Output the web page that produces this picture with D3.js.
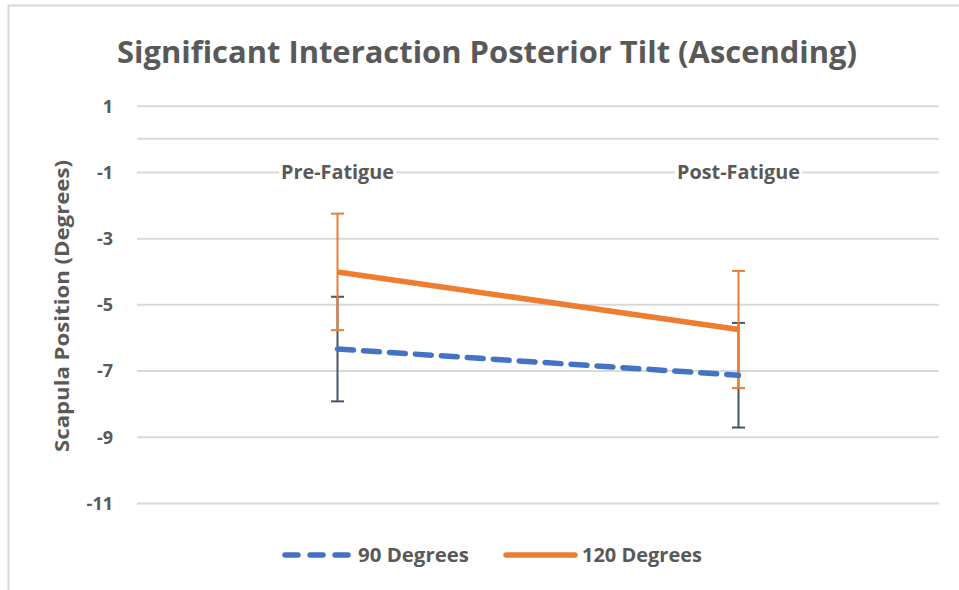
<!DOCTYPE html>
<html>
<head>
<meta charset="utf-8">
<script src="https://cdn.jsdelivr.net/npm/d3@7"></script>
<style>
  html, body { margin: 0; padding: 0; background: #fff; }
  svg { display: block; }
  text { font-family: "Open Sans", "Noto Sans", sans-serif; font-weight: 700; fill: #595959; }
</style>
</head>
<body>
<svg id="chart" width="959" height="590"></svg>
<script>
// Chart data
const categories = ["Pre-Fatigue", "Post-Fatigue"];
const seriesNames = ["90 Degrees", "120 Degrees"];
const values90 = [-6.35, -7.14];
const errors90 = [1.58, 1.58];
const values120 = [-4.02, -5.76];
const errors120 = [1.76, 1.77];
const yTicks = [1, -1, -3, -5, -7, -9, -11];
const chartTitle = "Significant Interaction Posterior Tilt (Ascending)";
const yAxisTitle = "Scapula Position (Degrees)";

const series = [
  { name: seriesNames[0], values: values90, errors: errors90, color: "#4472C4", errColor: "#44546A", dash: "16,10" },
  { name: seriesNames[1], values: values120, errors: errors120, color: "#ED7D31", errColor: "#ED7D31", dash: null }
];

const svg = d3.select("#chart");

// Outer frame (top and left edges)
svg.append("line").attr("x1", 8).attr("x2", 959).attr("y1", 5.5).attr("y2", 5.5)
  .attr("stroke", "#d9d9d9").attr("stroke-width", 2);
svg.append("line").attr("x1", 8.5).attr("x2", 8.5).attr("y1", 5).attr("y2", 590)
  .attr("stroke", "#d9d9d9").attr("stroke-width", 2);

const plot = { left: 137, right: 939, top: 105.7, bottom: 503 };

const x = d3.scaleBand().domain(categories).range([plot.left, plot.right]);
const y = d3.scaleLinear().domain([-11, 1]).range([plot.bottom, plot.top]);

// Title
svg.append("text")
  .attr("x", 487).attr("y", 63)
  .attr("text-anchor", "middle")
  .attr("font-size", 30)
  .attr("textLength", 740).attr("lengthAdjust", "spacingAndGlyphs")
  .text(chartTitle);

// Horizontal gridlines via axis
const yGrid = d3.axisLeft(y).tickValues(yTicks)
  .tickSize(-(plot.right - plot.left)).tickFormat("");
const gridG = svg.append("g").attr("transform", `translate(${plot.left},0)`).call(yGrid);
gridG.select(".domain").remove();
gridG.selectAll(".tick line").attr("stroke", "#d9d9d9").attr("stroke-width", 2);

// Category axis line at zero
svg.append("line")
  .attr("x1", plot.left).attr("x2", plot.right)
  .attr("y1", y(0)).attr("y2", y(0))
  .attr("stroke", "#d9d9d9").attr("stroke-width", 2);

// Y tick labels
const yAxis = d3.axisLeft(y).tickValues(yTicks).tickSize(0).tickPadding(0)
  .tickFormat(d => d3.format("d")(d).replace("−", "-"));
const yAxisG = svg.append("g").attr("transform", `translate(113,0)`).call(yAxis);
yAxisG.select(".domain").remove();
yAxisG.selectAll(".tick text")
  .attr("font-size", 18).attr("fill", "#595959")
  .attr("font-family", "Open Sans, sans-serif").attr("font-weight", 700)
  .attr("dy", "0.35em");

// Y axis title
svg.append("text")
  .attr("transform", `translate(69,306) rotate(-90)`)
  .attr("text-anchor", "middle")
  .attr("font-size", 20)
  .attr("textLength", 292).attr("lengthAdjust", "spacingAndGlyphs")
  .text(yAxisTitle);

// Category labels, placed just under the zero line
const catWidths = [113, 123];
const catG = svg.append("g");
categories.forEach((c, i) => {
  const cx = x(c) + x.bandwidth() / 2;
  const t = catG.append("text")
    .attr("x", cx).attr("y", y(-1))
    .attr("dy", "0.35em")
    .attr("text-anchor", "middle")
    .attr("font-size", 19)
    .attr("textLength", catWidths[i]).attr("lengthAdjust", "spacingAndGlyphs")
    .text(c);
  const bb = t.node().getBBox();
  catG.insert("rect", "text")
    .attr("x", bb.x - 2).attr("y", bb.y).attr("width", bb.width + 4).attr("height", bb.height)
    .attr("fill", "#fff");
});

const cxOf = i => x(categories[i]) + x.bandwidth() / 2;

// Error bars
series.forEach(s => {
  const g = svg.append("g");
  s.values.forEach((v, i) => {
    const cx = cxOf(i);
    const hi = y(v + s.errors[i]);
    const lo = y(v - s.errors[i]);
    g.append("line").attr("x1", cx).attr("x2", cx).attr("y1", hi).attr("y2", lo)
      .attr("stroke", s.errColor).attr("stroke-width", 2);
    [hi, lo].forEach(yy => {
      g.append("line").attr("x1", cx - 6.5).attr("x2", cx + 6.5).attr("y1", yy).attr("y2", yy)
        .attr("stroke", s.errColor).attr("stroke-width", 2);
    });
  });
});

// Series lines
const lineGen = d3.line().x((d, i) => cxOf(i)).y(d => y(d));
series.forEach(s => {
  svg.append("path")
    .datum(s.values)
    .attr("d", lineGen)
    .attr("fill", "none")
    .attr("stroke", s.color)
    .attr("stroke-width", 5.5)
    .attr("stroke-linecap", s.dash ? "round" : "butt")
    .attr("stroke-dasharray", s.dash);
});

// Legend
const legendItems = [
  { s: series[0], x1: 285, x2: 350, tx: 358, w: 111 },
  { s: series[1], x1: 506, x2: 575, tx: 582, w: 120 }
];
const legY = 555;
legendItems.forEach(item => {
  svg.append("line")
    .attr("x1", item.x1).attr("x2", item.x2).attr("y1", legY).attr("y2", legY)
    .attr("stroke", item.s.color).attr("stroke-width", 5.5)
    .attr("stroke-linecap", "round")
    .attr("stroke-dasharray", item.s.dash ? "13,12" : null);
  svg.append("text")
    .attr("x", item.tx).attr("y", legY).attr("dy", "0.35em")
    .attr("font-size", 19)
    .attr("textLength", item.w).attr("lengthAdjust", "spacingAndGlyphs")
    .text(item.s.name);
});
</script>
</body>
</html>
